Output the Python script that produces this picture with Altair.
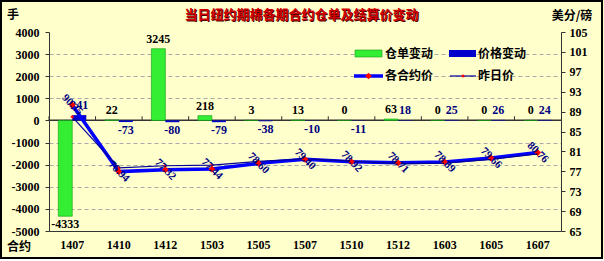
import altair as alt
import pandas as pd

# ---------------- data ----------------
contracts = ["1407", "1410", "1412", "1503", "1505", "1507", "1510", "1512", "1603", "1605", "1607"]
warehouse_change = [-4333, 22, 3245, 218, 3, 13, 0, 63, 0, 0, 0]
price_change = [241, -73, -80, -79, -38, -10, -11, 18, 25, 26, 24]
settle_price = [90.35, 76.94, 77.32, 77.44, 78.60, 79.40, 78.92, 78.71, 78.89, 79.66, 80.76]
prev_price = [87.94, 77.67, 78.12, 78.23, 78.98, 79.50, 79.03, 78.53, 78.64, 79.40, 80.52]
left_ticks = [-5000, -4000, -3000, -2000, -1000, 0, 1000, 2000, 3000, 4000]
right_ticks = [65, 69, 73, 77, 81, 85, 89, 93, 97, 101, 105]

title_text = "当日纽约期棉各期合约仓单及结算价变动"
legend_labels = ["仓单变动", "价格变动", "各合约价", "昨日价"]
unit_left, unit_right, x_title = "手", "美分/磅", "合约"

# ---------------- styling ----------------
W, H = 512, 199
BG = "#FFFFCC"
NUM = "Liberation Serif"
CN = "Noto Sans CJK SC"
AX = "#333333"
GREEN, GREEN_S = "#33EE33", "#129912"
BLUE_BAR = "#0000CC"
LINE = "#0000FF"
PREV = "#000099"
RED = "#FF0000"
LBL = "#000080"

df = pd.DataFrame({
    "contract": contracts,
    "wh": warehouse_change,
    "pc": price_change,
    "price": settle_price,
    "prev": prev_price,
})
df["wh_t"] = df["wh"].astype(str)
df["pc_t"] = df["pc"].astype(str)
df["price_t"] = df["price"].map(lambda v: f"{v:.2f}")

LD = [-5000, 4000]
RD = [65, 105]

x_axis = alt.Axis(title=None, labelFont=NUM, labelFontWeight="bold", labelFontSize=12,
                  labelColor="black", labelAngle=0, ticks=False, labelPadding=8,
                  domainColor=AX, domainWidth=1, grid=False)


def X(**kw):
    return alt.X("contract:N", sort=contracts, scale=alt.Scale(paddingInner=0, paddingOuter=0),
                 axis=x_axis, **kw)


def YL(f, **kw):
    kw.setdefault("axis", None)
    return alt.Y(f, scale=alt.Scale(domain=LD, nice=False), **kw)


def YR(f, **kw):
    kw.setdefault("axis", None)
    return alt.Y(f, scale=alt.Scale(domain=RD, nice=False, zero=False), **kw)


base = alt.Chart(df)

left_axis = alt.Axis(title=None, values=left_ticks, labelExpr="'' + datum.value",
                     labelFont=NUM, labelFontWeight="bold", labelFontSize=12, labelColor="black",
                     tickSize=4, tickColor=AX, labelPadding=6, domainColor=AX,
                     grid=True, gridColor="#A8A8A8", gridDash=[4, 3], gridWidth=1,
                     gridOpacity={"condition": {"test": "datum.value >= 4000 || datum.value <= -5000 || datum.value == 0",
                                                "value": 0}, "value": 1})
right_axis = alt.Axis(title=None, orient="right", values=right_ticks,
                      labelFont=NUM, labelFontWeight="bold", labelFontSize=12, labelColor="black",
                      tickSize=4, tickColor=AX, labelPadding=4, domainColor=AX, grid=False)

# ---------------- left (bars) ----------------
axes_left = base.mark_bar(opacity=0).encode(x=X(), y=YL("wh:Q", axis=left_axis))
zero = base.mark_rule(color=AX, strokeWidth=1).encode(
    x=alt.value(0), x2=alt.value(W),
    y=alt.YDatum(0, scale=alt.Scale(domain=LD, nice=False), axis=None))
cat_ticks = base.mark_rule(color=AX, strokeWidth=1).encode(
    x=X(bandPosition=0),
    y=alt.YDatum(0, scale=alt.Scale(domain=LD, nice=False), axis=None),
    y2=alt.Y2Datum(190))
green = base.mark_bar(width=14, xOffset=-7, color=GREEN, stroke=GREEN_S, strokeWidth=0.6).encode(
    x=X(), y=YL("wh:Q"))
blue = base.mark_bar(width=14, xOffset=7, color=BLUE_BAR).encode(
    x=X(), y=YL("pc:Q"))

txt_kw = dict(font=NUM, fontWeight="bold", fontSize=12)
wh_pos = base.transform_filter("datum.wh >= 0").mark_text(
    xOffset=-7, dy=-3, baseline="bottom", color="black", **txt_kw).encode(
    x=X(), y=YL("wh:Q"), text="wh_t:N")
wh_neg = base.transform_filter("datum.wh < 0").mark_text(
    xOffset=-7, dy=3, baseline="top", color="black", **txt_kw).encode(
    x=X(), y=YL("wh:Q"), text="wh_t:N")
pc_pos = base.transform_filter("datum.pc >= 0").mark_text(
    xOffset=7, dy=-3, baseline="bottom", color=LBL, **txt_kw).encode(
    x=X(), y=YL("pc:Q"), text="pc_t:N")
pc_neg = base.transform_filter("datum.pc < 0").mark_text(
    xOffset=7, dy=3, baseline="top", color=LBL, **txt_kw).encode(
    x=X(), y=YL("pc:Q"), text="pc_t:N")

# ---------------- right (prices) ----------------
today_line = base.mark_line(color=LINE, strokeWidth=3.5).encode(
    x=X(), y=YR("price:Q", axis=right_axis))
prev_line = base.mark_line(color=PREV, strokeWidth=1.2).encode(x=X(), y=YR("prev:Q"))
today_pts = base.mark_point(shape="diamond", filled=True, color=RED, size=45, opacity=1).encode(
    x=X(), y=YR("price:Q"))
prev_pts = base.mark_point(shape="diamond", filled=True, color=RED, size=14, opacity=1).encode(
    x=X(), y=YR("prev:Q"))
price_lbl = base.mark_text(angle=45, font=NUM, fontWeight="bold", fontSize=11, color=LBL).encode(
    x=X(), y=YR("price:Q"), text="price_t:N")

# ---------------- decoration ----------------
one = pd.DataFrame({"t": [""]})


def txt(s, x, y, **kw):
    return alt.Chart(pd.DataFrame({"t": [s]})).mark_text(**kw).encode(
        x=alt.value(x), y=alt.value(y), text="t:N")


border = alt.Chart(one).mark_rect(fillOpacity=0, stroke="black", strokeWidth=2).encode(
    x=alt.value(-48), x2=alt.value(W + 41), y=alt.value(-31), y2=alt.value(H + 27))
strip = alt.Chart(one).mark_rect(color="white").encode(
    x=alt.value(-49), x2=alt.value(W + 43), y=alt.value(H + 28), y2=alt.value(H + 30))

cn_kw = dict(font=CN, fontWeight="bold", fontSize=12, color="black", baseline="middle")
title_shadow = txt(title_text, 253.5, -16, font=CN, fontWeight="bold", fontSize=13,
                   color="#4A0000", align="center", baseline="middle")
title = txt(title_text, 252.5, -17, font=CN, fontWeight="bold", fontSize=13,
            color="#D00000", align="center", baseline="middle")
t_left = txt(unit_left, -36, -17, align="center", **cn_kw)
t_right = txt(unit_right, 523, -16, align="center", **cn_kw)
t_x = txt(x_title, -30, 215, align="center", **cn_kw)

lg_green = alt.Chart(one).mark_rect(color=GREEN, stroke=GREEN_S, strokeWidth=0.6).encode(
    x=alt.value(306), x2=alt.value(333), y=alt.value(18), y2=alt.value(25))
lg_blue = alt.Chart(one).mark_rect(color=BLUE_BAR).encode(
    x=alt.value(400), x2=alt.value(427), y=alt.value(18), y2=alt.value(25))
lg_line = alt.Chart(one).mark_rule(color=LINE, strokeWidth=3.5).encode(
    x=alt.value(305), x2=alt.value(334), y=alt.value(44))
lg_pt = alt.Chart(one).mark_point(shape="diamond", filled=True, color=RED, size=45, opacity=1).encode(
    x=alt.value(319.5), y=alt.value(44))
lg_thin = alt.Chart(one).mark_rule(color=PREV, strokeWidth=1.2).encode(
    x=alt.value(401), x2=alt.value(427), y=alt.value(44))
lg_pt2 = alt.Chart(one).mark_point(shape="diamond", filled=True, color=RED, size=14, opacity=1).encode(
    x=alt.value(414), y=alt.value(44))
lg_t1 = txt(legend_labels[0], 336, 22, align="left", **cn_kw)
lg_t2 = txt(legend_labels[1], 429, 22, align="left", **cn_kw)
lg_t3 = txt(legend_labels[2], 336, 44, align="left", **cn_kw)
lg_t4 = txt(legend_labels[3], 429, 44, align="left", **cn_kw)

layers = [axes_left, zero, cat_ticks, green, blue, wh_pos, wh_neg, pc_pos, pc_neg,
          today_line, prev_line, today_pts, prev_pts, price_lbl,
          border, strip, title_shadow, title, t_left, t_right, t_x,
          lg_green, lg_blue, lg_line, lg_pt, lg_thin, lg_pt2,
          lg_t1, lg_t2, lg_t3, lg_t4]

chart = alt.layer(*layers).resolve_scale(y="independent").properties(
    width=W, height=H,
    padding={"left": 49, "top": 32, "right": 43, "bottom": 30},
    autosize=alt.AutoSizeParams(type="none"),
    background=BG,
).configure_view(stroke=None)

chart.save("out.html", embed_options={"renderer": "svg", "actions": False})
